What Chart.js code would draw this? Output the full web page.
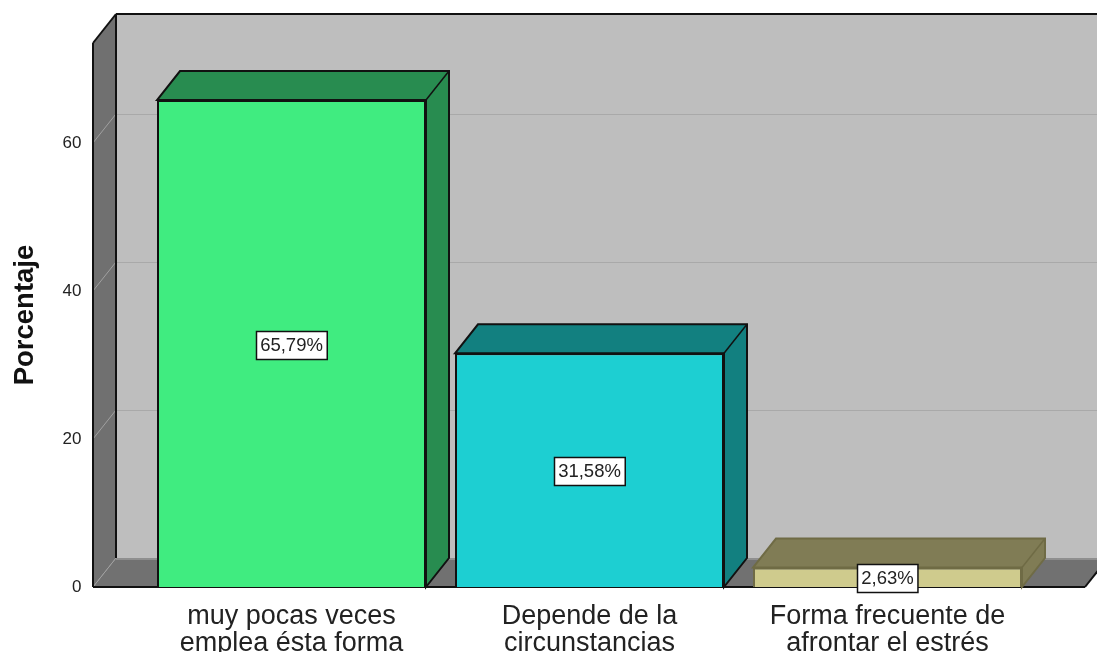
<!DOCTYPE html>
<html>
<head>
<meta charset="utf-8">
<title>Porcentaje</title>
<script src="https://cdn.jsdelivr.net/npm/chart.js@4/dist/chart.umd.min.js"></script>
<style>
html, body { margin: 0; padding: 0; background: #fff; overflow: hidden; }
#wrap { position: relative; width: 1097px; height: 652px; }
</style>
</head>
<body>
<div id="wrap"><canvas id="chart"></canvas></div>
<script>
// Chart data
const categories = [
    ['muy pocas veces', 'emplea ésta forma'],
    ['Depende de la', 'circunstancias'],
    ['Forma frecuente de', 'afrontar el estrés']
];
const percentages = [65.79, 31.58, 2.63];
const yTicks = [0, 20, 40, 60];
const yTitle = 'Porcentaje';

// Bar colours: front, and the darker top/side faces
const frontColors = ['#40ec80', '#1dcfd2', '#cfcb8d'];
const faceColors = ['#288c50', '#128080', '#807c55'];
const outlineColors = ['#111111', '#111111', '#6f6b45'];

// 3D look of the SPSS chart
const depthX = 23;
const depthY = 29;
const frontLeft = 93;
const frontRight = 1085;
const fontName = '"Liberation Sans", Arial, sans-serif';

function polygon(ctx, points, fill, stroke, lineWidth) {
    ctx.beginPath();
    points.forEach((p, i) => i ? ctx.lineTo(p[0], p[1]) : ctx.moveTo(p[0], p[1]));
    ctx.closePath();
    if (fill) {
        ctx.fillStyle = fill;
        ctx.fill();
    }
    if (stroke) {
        ctx.strokeStyle = stroke;
        ctx.lineWidth = lineWidth;
        ctx.stroke();
    }
}

function line(ctx, x1, y1, x2, y2, color, width) {
    ctx.beginPath();
    ctx.moveTo(x1, y1);
    ctx.lineTo(x2, y2);
    ctx.strokeStyle = color;
    ctx.lineWidth = width;
    ctx.stroke();
}

// Back wall, left wall, floor and grid lines
const roomPlugin = {
    id: 'room',
    beforeDatasetsDraw(chart) {
        const ctx = chart.ctx;
        const y = chart.scales.y;
        const top = chart.chartArea.top;
        const bottom = y.getPixelForValue(0);
        const backLeft = frontLeft + depthX;
        const backRight = frontRight + depthX;

        ctx.save();
        // back wall
        polygon(ctx, [[backLeft, top - depthY], [backRight, top - depthY], [backRight, bottom - depthY], [backLeft, bottom - depthY]], '#bebebe');
        // grid lines
        yTicks.forEach(value => {
            const py = Math.round(y.getPixelForValue(value) - depthY) + 0.5;
            if (value > 0) {
                line(ctx, backLeft, py, backRight, py, '#a9a9a9', 1);
            }
        });
        // left wall
        polygon(ctx, [[frontLeft, top], [backLeft, top - depthY], [backLeft, bottom - depthY], [frontLeft, bottom]], '#707070');
        // floor
        polygon(ctx, [[frontLeft, bottom], [backLeft, bottom - depthY], [backRight, bottom - depthY], [frontRight, bottom]], '#717171');
        ctx.fillStyle = '#8f8f8f';
        ctx.fillRect(backLeft, bottom - depthY, backRight - backLeft, 2);
        // grid lines on the left wall
        yTicks.forEach(value => {
            const py = y.getPixelForValue(value);
            line(ctx, frontLeft, py, backLeft, py - depthY, '#a0a0a0', 1);
        });
        // frame
        line(ctx, frontLeft, bottom, frontLeft, top, '#111', 2);
        line(ctx, frontLeft, top, backLeft, top - depthY, '#111', 2);
        line(ctx, backLeft, top - depthY, backRight, top - depthY, '#111', 2);
        line(ctx, backLeft, top - depthY, backLeft, bottom - depthY, '#111', 2);
        line(ctx, frontLeft, bottom, frontRight, bottom, '#111', 2);
        line(ctx, frontRight, bottom, backRight, bottom - depthY, '#111', 2);

        // top and side faces of the bars
        chart.getDatasetMeta(0).data.forEach((bar, i) => {
            const half = bar.width / 2;
            const l = bar.x - half;
            const r = bar.x + half;
            const t = bar.y;
            const b = bar.base;
            const pts = [[l, t], [l + depthX, t - depthY], [r + depthX, t - depthY], [r + depthX, b - depthY], [r, b], [r, t]];
            polygon(ctx, pts, faceColors[i], outlineColors[i], 2);
            line(ctx, r, t, r + depthX, t - depthY, outlineColors[i], 1.5);
        });
        ctx.restore();
    }
};

// White value boxes in the middle of each bar
const valueBoxPlugin = {
    id: 'valueBox',
    afterDatasetsDraw(chart) {
        const ctx = chart.ctx;
        ctx.save();
        ctx.font = '18.5px ' + fontName;
        ctx.textAlign = 'center';
        ctx.textBaseline = 'middle';
        chart.getDatasetMeta(0).data.forEach((bar, i) => {
            const text = percentages[i].toFixed(2).replace('.', ',') + '%';
            const w = ctx.measureText(text).width + 8;
            const h = 28;
            const cy = (bar.y + bar.base) / 2 + 1;
            const x = Math.round(bar.x - w / 2) + 0.5;
            const y = Math.round(cy - h / 2) + 0.5;
            ctx.fillStyle = '#fff';
            ctx.fillRect(x, y, w, h);
            ctx.strokeStyle = '#111';
            ctx.lineWidth = 1.5;
            ctx.strokeRect(x, y, w, h);
            ctx.fillStyle = '#222';
            ctx.fillText(text, bar.x, cy + 1);
        });
        ctx.restore();
    }
};

new Chart(document.getElementById('chart').getContext('2d'), {
    type: 'bar',
    data: {
        labels: categories,
        datasets: [{
            label: yTitle,
            data: percentages,
            backgroundColor: frontColors,
            borderColor: outlineColors,
            borderWidth: 2,
            categoryPercentage: 1,
            barPercentage: 269 / 298
        }]
    },
    plugins: [roomPlugin, valueBoxPlugin],
    options: {
        responsive: true,
        maintainAspectRatio: false,
        animation: false,
        layout: {
            padding: { top: 43, right: 60.5, bottom: 0, left: 0 }
        },
        plugins: {
            legend: { display: false },
            tooltip: { enabled: false }
        },
        scales: {
            x: {
                grid: { display: false, drawTicks: false },
                border: { display: false },
                afterFit(scale) {
                    scale.height = 65;
                    scale.paddingLeft = 0;
                    scale.paddingRight = 0;
                },
                ticks: {
                    font: { family: fontName, size: 27, lineHeight: 1 },
                    color: '#222',
                    padding: 16,
                    maxRotation: 0,
                    autoSkip: false
                }
            },
            y: {
                min: 0,
                max: 73.5,
                grid: { display: false, drawTicks: false },
                border: { display: false },
                afterFit(scale) {
                    scale.width = 142.5;
                    scale.paddingTop = 0;
                    scale.paddingBottom = 0;
                },
                title: {
                    display: true,
                    text: yTitle,
                    color: '#111',
                    padding: { top: 9, bottom: 0 },
                    font: { family: fontName, size: 27.5, weight: 'bold' }
                },
                afterBuildTicks(scale) {
                    scale.ticks = yTicks.map(value => ({ value: value }));
                },
                ticks: {
                    font: { family: fontName, size: 17 },
                    color: '#222',
                    padding: 61
                }
            }
        }
    }
});
</script>
</body>
</html>
